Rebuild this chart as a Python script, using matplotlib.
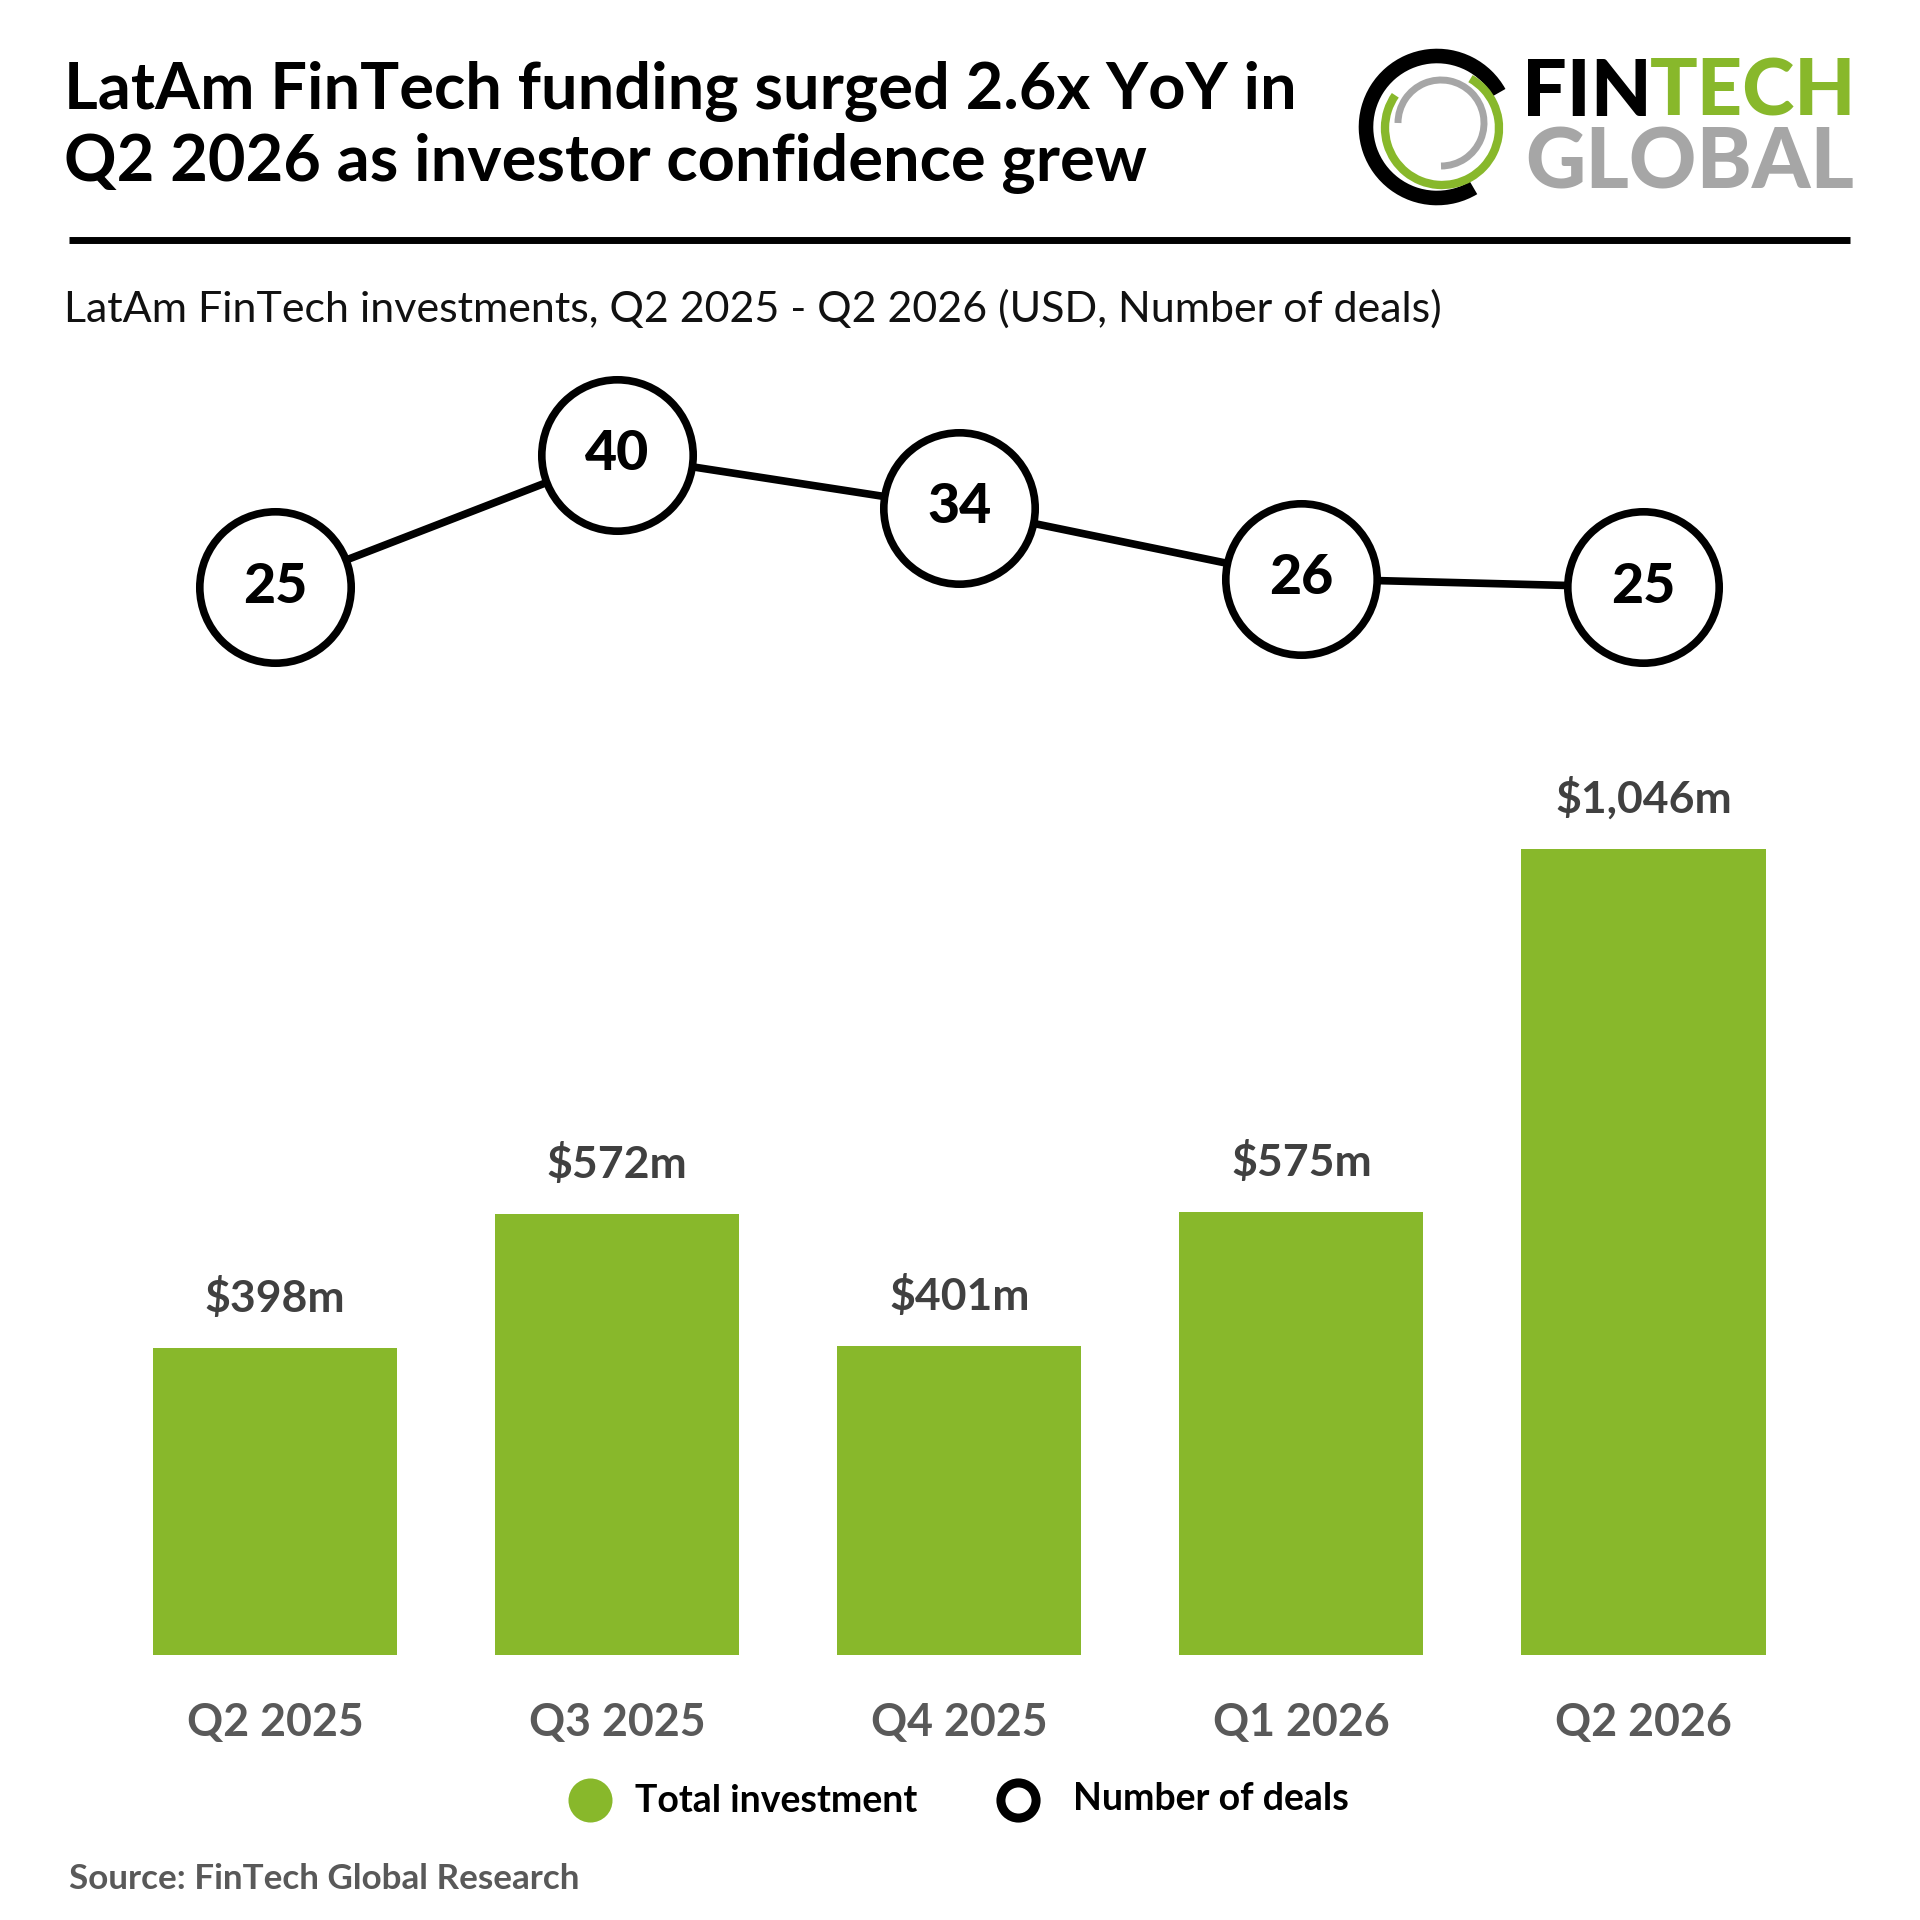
import matplotlib
matplotlib.use("Agg")
import matplotlib.pyplot as plt
from matplotlib.patches import Arc

quarters = ["Q2 2025", "Q3 2025", "Q4 2025", "Q1 2026", "Q2 2026"]
investment = [398, 572, 401, 575, 1046]
investment_labels = ["$398m", "$572m", "$401m", "$575m", "$1,046m"]
deals = [25, 40, 34, 26, 25]

plt.rcParams['font.family'] = ['Lato', 'DejaVu Sans']
GREEN = "#88B82B"
W = 1920.0
fig = plt.figure(figsize=(19.2, 19.2), dpi=100, facecolor="white")

def add_px_axes(l, t, r, b):
    return fig.add_axes([l/W, 1-b/W, (r-l)/W, (b-t)/W])

bg = fig.add_axes([0, 0, 1, 1]); bg.set_xlim(0, W); bg.set_ylim(W, 0); bg.axis("off")
bg.text(64, 92, "LatAm FinTech funding surged 2.6x YoY in", fontsize=46.8, fontweight="bold", va="center", color="black")
bg.text(64, 164, "Q2 2026 as investor confidence grew", fontsize=46.8, fontweight="bold", va="center", color="black")
bg.plot([69, 1850], [240, 240], color="black", lw=5, solid_capstyle="butt")
bg.text(64, 309, "LatAm FinTech investments, Q2 2025 - Q2 2026 (USD, Number of deals)", fontsize=31, va="center", color="#111111")
bg.text(69, 1879, "Source: FinTech Global Research", fontsize=25.2, fontweight="bold", va="center", color="#595959")

# logo
bg.add_patch(Arc((1437, 127), 142, 142, theta1=59, theta2=331, color="black", lw=10.5))
bg.add_patch(Arc((1442, 128), 114, 114, theta1=-60, theta2=215, color=GREEN, lw=6))
bg.add_patch(Arc((1441, 123), 86, 86, theta1=-180, theta2=90, color="#A6A6A6", lw=5))
bg.text(1522, 93, "FIN", fontsize=57, fontweight=900, va="center", color="black")
bg.text(1650, 93, "TECH", fontsize=57, fontweight=900, va="center", color=GREEN)
bg.text(1525, 164, "GLOBAL", fontsize=60, fontweight=900, va="center", color="#A6A6A6")

# bars
ax = add_px_axes(70, 800, 1850, 1655)
x = list(range(len(quarters)))
ax.bar(x, investment, width=0.714, color=GREEN)
ax.set_xlim(-0.6, 4.604)
ax.set_ylim(0, 1046 * 855 / 806)
for s in ax.spines.values():
    s.set_visible(False)
ax.set_yticks([])
ax.set_xticks(x, quarters, fontsize=32.2, fontweight="bold", color="#595959")
ax.tick_params(axis="x", length=0, pad=34)
for xi, v, lab in zip(x, investment, investment_labels):
    ax.annotate(lab, (xi, v), xytext=(0, 29), textcoords="offset pixels", ha="center", va="bottom",
                fontsize=32, fontweight="bold", color="#404040")

# deals line
ax2 = add_px_axes(70, 360, 1850, 680)
ax2.set_xlim(-0.6, 4.604)
ax2.set_ylim(14.5, 50.8)
ax2.axis("off")
ax2.plot(x, deals, color="black", lw=5.5, marker="o", ms=109, mfc="white", mec="black", mew=5.5, clip_on=False)
for xi, d in zip(x, deals):
    ax2.text(xi, d + 0.1, str(d), ha="center", va="center", fontsize=40, fontweight=900, color="black")

# legend
bg.scatter([590], [1800], s=1005, color=GREEN, linewidths=0)
bg.text(635, 1801, "Total investment", fontsize=27, fontweight="bold", va="center", color="black")
bg.scatter([1017.5], [1800], s=640, facecolor="white", edgecolor="black", linewidths=6.5)
bg.text(1073, 1799, "Number of deals", fontsize=27, fontweight="bold", va="center", color="black")

fig.savefig("out.png", dpi=100, facecolor="white")
